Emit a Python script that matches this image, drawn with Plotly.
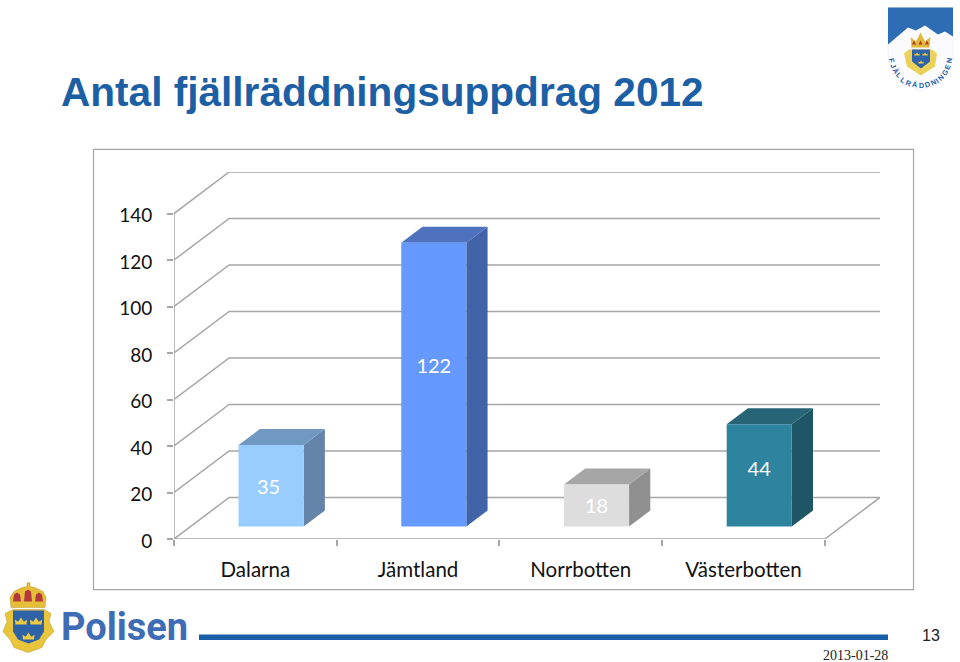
import math
import plotly.graph_objects as go

# ---------- data ----------
CATEGORIES = ["Dalarna", "Jämtland", "Norrbotten", "Västerbotten"]
VALUES = [35, 122, 18, 44]
Y_TICKS = [0, 20, 40, 60, 80, 100, 120, 140]
FACE_COLORS = ["#99CCFF", "#6699FF", "#DDDDDD", "#2E839E"]
SIDE_COLORS = ["#6484AA", "#4164A8", "#909090", "#1F5666"]
TOP_COLORS = ["#7099C2", "#4F72BE", "#A6A6A6", "#266476"]
TITLE = "Antal fjällräddningsuppdrag 2012"
BADGE_TEXT = "FJÄLLRÄDDNINGEN"

# ---------- layout constants ----------
W, H = 960, 662
L, R, T, B = 174.0, 880.0, 171.7, 539.3
OX = 55 / 162.25          # depth offset, in category units
OY = 41.6 / 2.329         # depth offset, in value units
D0, D1 = 0.303, 0.688     # bar front / back depth
BAR_W = 0.4
BAR_SHIFT = -0.006
LABEL_FRAC = [0.46, 0.558, 0.45, 0.54]
LABEL_DX = [-0.022, -0.006, -0.006, -0.006]
GRID = "#A6A6A6"
N = len(CATEGORIES)


def project(x, v, d=0.0):
    return x + d * OX, v + d * OY


def px(x):
    return (x - L) / (R - L)


def py(y):
    return (B - y) / (B - T)


def poly(points, fill=None, line=None, lw=1.5):
    xs = [p[0] for p in points]
    ys = [p[1] for p in points]
    if fill:
        return go.Scatter(x=xs, y=ys, mode="lines", fill="toself", fillcolor=fill, cliponaxis=False,
                          line=dict(width=0, color=fill), hoverinfo="skip", showlegend=False)
    return go.Scatter(x=xs, y=ys, mode="lines", line=dict(color=line, width=lw), cliponaxis=False,
                      hoverinfo="skip", showlegend=False)


fig = go.Figure()

# gridlines on side wall + back wall
for v in Y_TICKS[1:]:
    fig.add_trace(poly([project(0, v), project(0, v, 1), project(N, v, 1)], line=GRID))
# floor
fig.add_trace(poly([project(0, 0), project(0, 0, 1), project(N, 0, 1), project(N, 0), project(0, 0)], line=GRID))
# y axis line
fig.add_trace(poly([project(0, 0), project(0, Y_TICKS[-1])], line=GRID))

# bars
for i, val in enumerate(VALUES):
    x0, x1 = i + 0.5 + BAR_SHIFT - BAR_W / 2, i + 0.5 + BAR_SHIFT + BAR_W / 2
    fig.add_trace(poly([project(x1, 0, D0), project(x1, 0, D1), project(x1, val, D1), project(x1, val, D0)], fill=SIDE_COLORS[i]))
    fig.add_trace(poly([project(x0, val, D0), project(x0, val, D1), project(x1, val, D1), project(x1, val, D0)], fill=TOP_COLORS[i]))
    fig.add_trace(poly([project(x0, 0, D0), project(x1, 0, D0), project(x1, val, D0), project(x0, val, D0)], fill=FACE_COLORS[i]))

# data labels
lab = [project(i + 0.5 + LABEL_DX[i], v * LABEL_FRAC[i], D0) for i, v in enumerate(VALUES)]
fig.add_trace(go.Scatter(x=[p[0] for p in lab], y=[p[1] for p in lab], mode="text",
                         text=[str(v) for v in VALUES], textposition="middle center",
                         textfont=dict(family="Lato", size=20, color="#FFFFFF"),
                         hoverinfo="skip", showlegend=False))

shapes = []
annotations = []


def path_shape(points, fill, line=None, lw=0):
    d = "M" + " L".join(f"{px(a):.5f},{py(b):.5f}" for a, b in points) + " Z"
    shapes.append(dict(type="path", xref="paper", yref="paper", path=d, fillcolor=fill,
                       line=dict(color=line or fill, width=lw), layer="above"))


def text(x, y, s, size, color, family, xanchor="left", bold=False, angle=0):
    annotations.append(dict(x=px(x), y=py(y), xref="paper", yref="paper", text=f"<b>{s}</b>" if bold else s,
                            showarrow=False, xanchor=xanchor, yanchor="middle", textangle=angle,
                            font=dict(size=size, color=color, family=family), borderpad=0, borderwidth=0))


def crown(cx, base, w, h, fill, line=None):
    path_shape([(cx - w, base), (cx - w * 1.1, base - h * 0.7), (cx - w * 0.5, base - h * 0.4), (cx, base - h),
                (cx + w * 0.5, base - h * 0.4), (cx + w * 1.1, base - h * 0.7), (cx + w, base)], fill, line, 0.5 if line else 0)


# chart frame
shapes.append(dict(type="rect", xref="paper", yref="paper", x0=px(93.5), x1=px(913.5), y0=py(590), y1=py(149),
                   line=dict(color="#A6A6A6", width=1.2), fillcolor="rgba(0,0,0,0)", layer="below"))
# rule
shapes.append(dict(type="rect", xref="paper", yref="paper", x0=px(199), x1=px(888), y0=py(640.5), y1=py(635),
                   line=dict(width=0), fillcolor="#1B5EA8", layer="above"))

text(61, 92, TITLE, 40.6, "#1C5FA5", "Liberation Sans", bold=True)
text(888, 656, "2013-01-28", 14, "#222222", "Liberation Serif", xanchor="right")
text(931, 636, "13", 16, "#222222", "Liberation Sans", xanchor="center")
text(61, 627, "Polisen", 38, "#3E6DB5", "Roboto", bold=True)

# Polisen crest: laurel, shield, crowns
path_shape([(3, 632), (7, 622), (5, 614), (13, 610), (44, 610), (51, 614), (49, 622), (54, 632), (46, 640),
            (42, 648), (28, 653), (14, 648), (10, 640)], "#E9C53C", "#B8962A", 0.5)
path_shape([(13, 611), (44, 611), (44, 632), (39, 640), (28.5, 644), (18, 640), (13, 632)], "#2F63A8")
crown(21, 625, 5.5, 7, "#EBCB45")
crown(36, 625, 5.5, 7, "#EBCB45")
crown(28.5, 640, 5.5, 7, "#EBCB45")
path_shape([(11, 608), (10, 598), (14, 592), (22, 588), (27, 587), (27, 583), (30, 583), (30, 587), (35, 588),
            (43, 592), (46, 598), (45, 608)], "#E6BE3A", "#B8962A", 0.5)
for cx, top in ((17, 593), (28, 590), (39, 593)):
    path_shape([(cx - 4, 602), (cx - 3, top + 2), (cx, top), (cx + 3, top + 2), (cx + 4, 602)], "#B23A3A")

# Fjällräddningen badge: shield, sky, crest, curved lettering
path_shape([(888, 7), (953, 7), (953, 56), (948, 74), (938, 84), (921, 90), (903, 84), (893, 74), (888, 56)], "#FBFBFD", "#E4E8F0", 0.5)
path_shape([(888, 7), (953, 7), (953, 36), (945, 31), (938, 34), (925, 25), (916, 30), (908, 27), (888, 44)], "#2E6DB4")
path_shape([(904, 53), (909, 49), (932, 49), (937, 53), (935, 66), (921, 75), (907, 66)], "#EBD15A")
path_shape([(912, 49), (930, 49), (930, 61), (921, 68), (912, 61)], "#2F63A8")
crown(920.5, 47, 9, 15, "#E3B93A")
for cx in (914, 920.5, 927):
    path_shape([(cx - 2, 44), (cx, 40), (cx + 2, 44)], "#B23A2A")
crown(917, 55, 2.5, 3, "#EBCB45")
crown(925, 55, 2.5, 3, "#EBCB45")
crown(921, 63, 2.5, 3, "#EBCB45")
widths = [0.75 if c == "J" else 0.55 if c == "I" else 1.0 for c in BADGE_TEXT]
total = sum(widths)
acc = 0.0
for ch, wd in zip(BADGE_TEXT, widths):
    phi = math.radians(-86 + 172 * (acc + wd / 2) / total)
    acc += wd
    text(920.5 + 29.5 * math.sin(phi), 55 + 30 * math.cos(phi), ch, 7.2, "#1F5FA8", "Liberation Sans",
         xanchor="center", bold=True, angle=-math.degrees(phi))

fig.update_layout(
    width=W, height=H, autosize=False,
    margin=dict(l=L, r=W - R, t=T, b=H - B, pad=0),
    paper_bgcolor="#FFFFFF", plot_bgcolor="rgba(0,0,0,0)",
    showlegend=False, shapes=shapes, annotations=annotations,
    xaxis=dict(range=[0, N + OX], tickmode="array", tickvals=[i + 0.5 for i in range(N)], ticktext=CATEGORIES,
               ticks="", ticklen=0, showgrid=False, zeroline=False, showline=False, ticklabelstandoff=16,
               tickfont=dict(family="Lato", size=20.5, color="#111111"),
               minor=dict(tickmode="array", tickvals=list(range(N + 1)), ticks="outside", ticklen=6,
                          tickcolor=GRID, tickwidth=1.5, showgrid=False)),
    yaxis=dict(range=[0, Y_TICKS[-1] + OY], tickmode="array", tickvals=Y_TICKS, ticktext=[str(v) for v in Y_TICKS],
               ticks="outside", ticklen=6, tickcolor=GRID, tickwidth=1.5, showgrid=False, zeroline=False,
               showline=False, ticklabelstandoff=11, ticklabelshift=2,
               tickfont=dict(family="Lato", size=19, color="#111111")),
)

fig.write_html("out.html", config=dict(displayModeBar=False),
               post_script="document.body.style.margin='0';document.body.style.overflow='hidden';")
